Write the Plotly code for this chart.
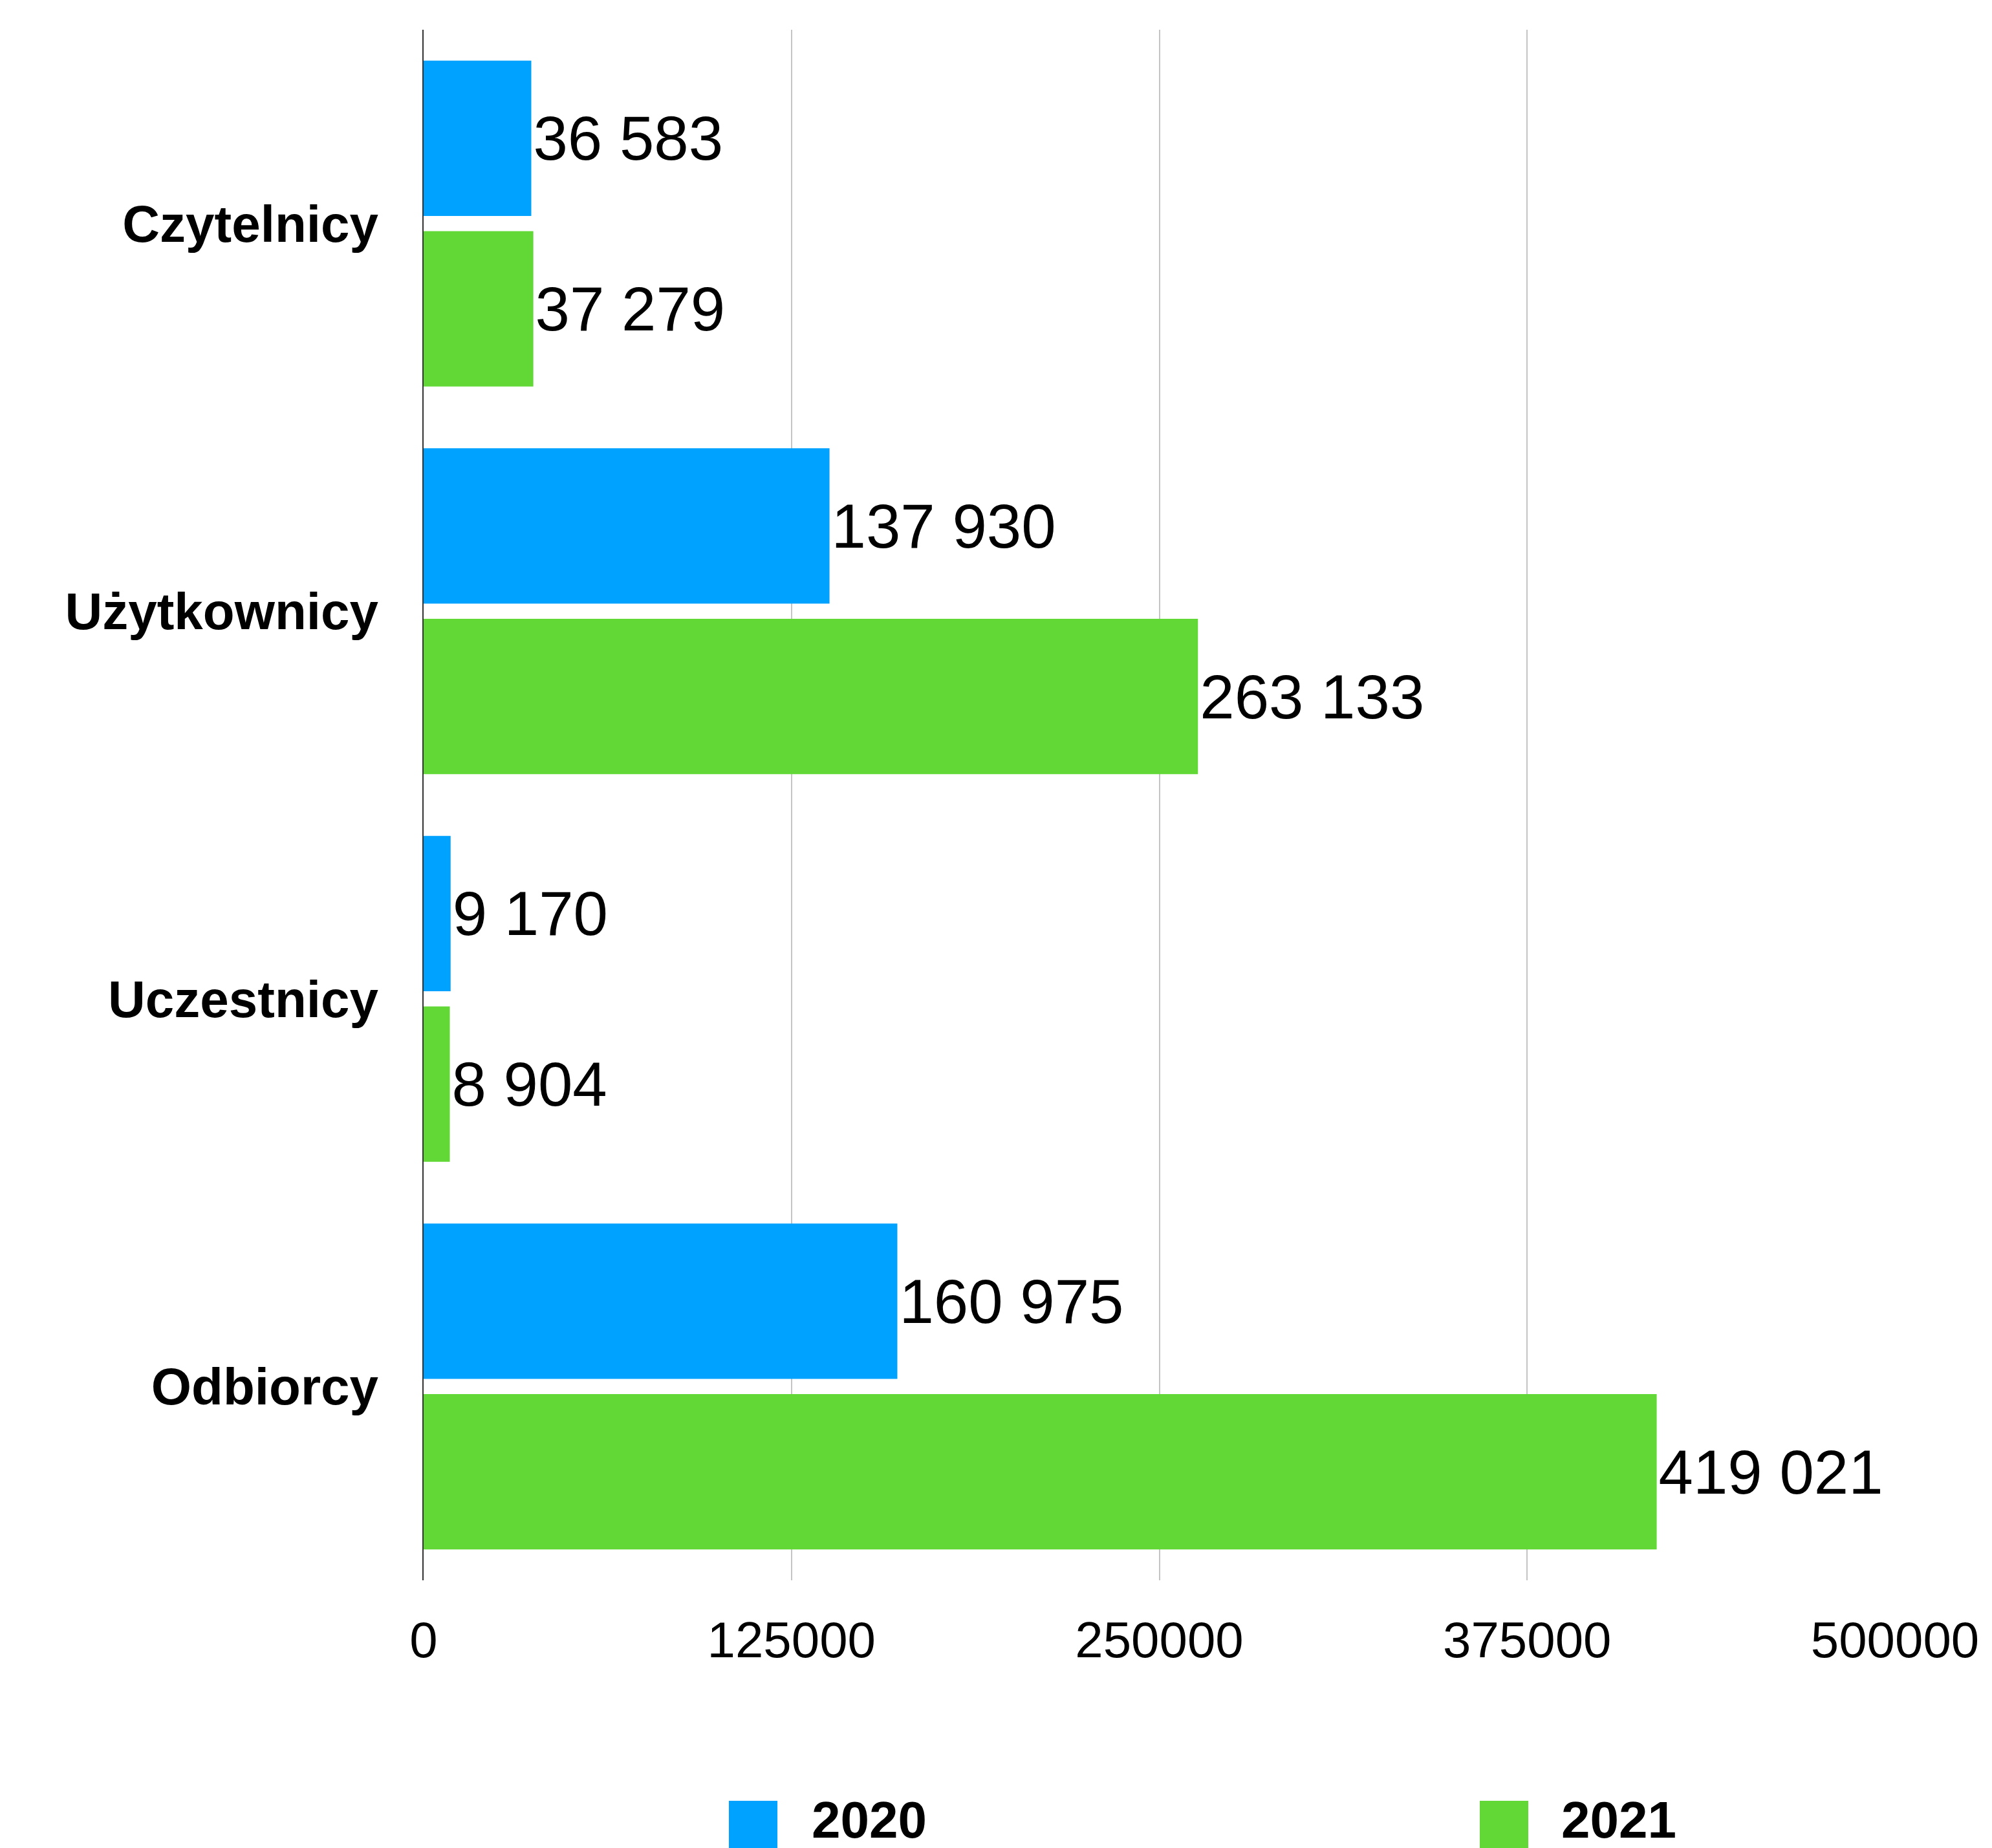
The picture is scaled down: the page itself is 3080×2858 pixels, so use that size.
import plotly.graph_objects as go

categories = ["Czytelnicy", "Użytkownicy", "Uczestnicy", "Odbiorcy"]
series_names = ["2020", "2021"]
values_2020 = [36583, 137930, 9170, 160975]
values_2021 = [37279, 263133, 8904, 419021]
x_ticks = [0, 125000, 250000, 375000, 500000]
colors = ["#00A2FF", "#61D836"]

FONT = "Liberation Sans, Arial, Helvetica, sans-serif"

fig = go.Figure()
for name, vals, col in zip(series_names, [values_2020, values_2021], colors):
    fig.add_trace(go.Bar(
        y=categories, x=vals, name=name, orientation="h",
        marker=dict(color=col, line=dict(width=0)),
        texttemplate="%{x:,}", textposition="outside",
        textfont=dict(family=FONT, size=96, color="#000000"),
        cliponaxis=False, showlegend=False,
    ))

# page has an 8px body margin, so the figure is drawn 8px in from the corner
OFF = 8
W, H = 3080 - OFF, 2858 - OFF
ml, mt = 655 - OFF, 46 - OFF
pw, ph = 2275, 2398
mr = W - ml - pw
mb = H - mt - ph

def px(xs):  # screen px -> paper
    return (xs - OFF - ml) / pw

def py(ys):
    return (mt + ph - (ys - OFF)) / ph

# custom legend (large square swatches)
legend_pos = [(1127, 1253), (2288, 2412)]
for (sx, tx), name, col in zip(legend_pos, series_names, colors):
    fig.add_shape(type="rect", xref="paper", yref="paper",
                  x0=px(sx), x1=px(sx + 75), y0=py(2785), y1=py(2862),
                  fillcolor=col, line=dict(width=0), layer="above")
    fig.add_annotation(xref="paper", yref="paper", x=px(tx), y=py(2814),
                       text=name, showarrow=False, xanchor="left", yanchor="middle",
                       font=dict(family=FONT, size=80, color="#000000", weight="bold"))

fig.update_layout(
    width=W, height=H,
    margin=dict(l=ml, r=mr, t=mt, b=mb, autoexpand=False),
    paper_bgcolor="white", plot_bgcolor="white",
    barmode="group", bargap=0.12, bargroupgap=0.09,
    separators=". ",
    showlegend=False,
)
fig.update_xaxes(
    range=[0, 500000], tickvals=x_ticks, tickformat="d",
    showgrid=True, gridcolor="#C4C4C4", gridwidth=2,
    zeroline=False, showline=False, ticks="",
    ticklabelstandoff=40,
    tickfont=dict(family=FONT, size=78, color="#000000"),
)
fig.update_yaxes(
    autorange="reversed", showgrid=False, zeroline=False,
    showline=True, linecolor="#333333", linewidth=2, ticks="",
    ticklabelstandoff=52,
    tickfont=dict(family=FONT, size=80, color="#000000", weight="bold"),
)

fig.write_html("out.html")
